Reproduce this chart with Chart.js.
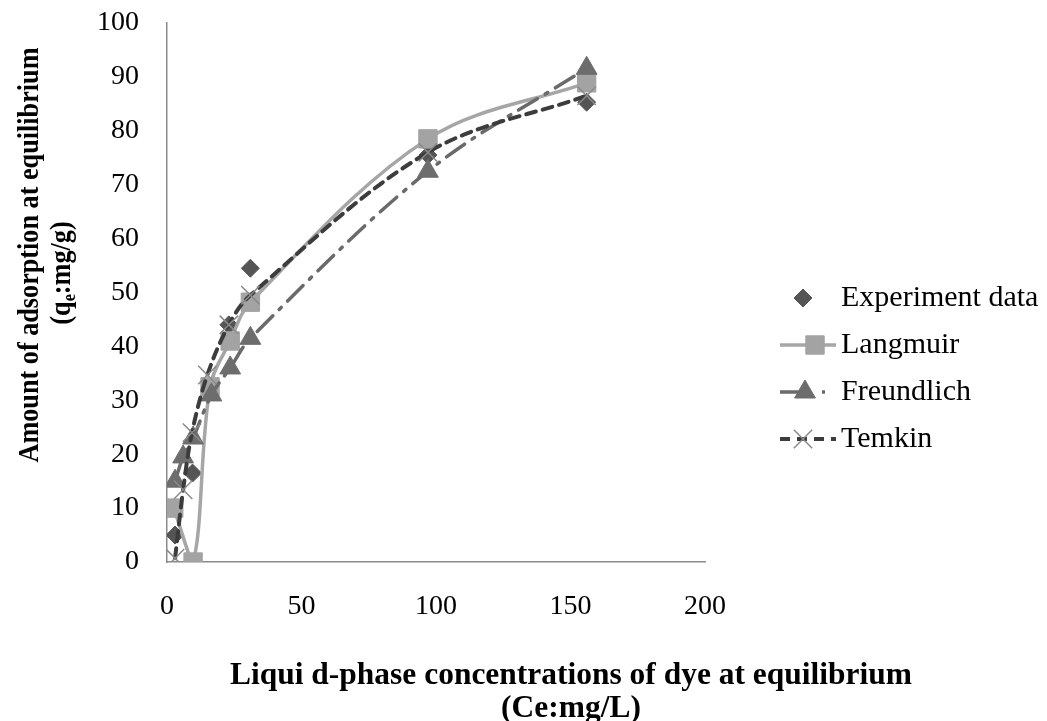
<!DOCTYPE html>
<html>
<head>
<meta charset="utf-8">
<title>Adsorption isotherms</title>
<script src="https://cdn.jsdelivr.net/npm/chart.js@4.4.0/dist/chart.umd.min.js"></script>
<style>
  html, body { margin: 0; padding: 0; background: #fff; }
  #wrap { width: 1047px; height: 721px; }
</style>
</head>
<body>
<div id="wrap"><canvas id="isotherm" width="1047" height="721"></canvas></div>
<script>
// Series names
const seriesNames = ['Experiment data', 'Langmuir', 'Freundlich', 'Temkin'];

// Ce (mg/L) and qe (mg/g) for each series
const expX = [3, 9.5, 16, 23, 31, 97, 156];
const expY = [5, 16.5, 31.5, 44, 54.5, 75.5, 85.3];

const langX = [2.5, 9.7, 16, 23.5, 31, 97, 156];
const langY = [10, 0, 32.5, 41, 48.2, 78.5, 88.9];

const freuX = [3, 6, 9.7, 16.5, 23.5, 31, 97, 156];
const freuY = [15, 19.5, 23, 31, 36, 41.5, 72.5, 91.6];

const temkX = [3, 6, 9.3, 15, 23, 31, 97, 156];
const temkY = [0.7, 13.4, 24, 34.7, 44, 49.5, 76, 86.5];

// Axis ticks
const xTicks = [0, 50, 100, 150, 200];
const yTicks = [0, 10, 20, 30, 40, 50, 60, 70, 80, 90, 100];

const serif = "'Liberation Serif', 'Times New Roman', serif";

function pairs(xs, ys) {
    return xs.map((x, i) => ({ x: x, y: ys[i] }));
}

// Axis titles, drawn by hand so the subscript and spacing come out right
const axisTitles = {
    id: 'axisTitles',
    afterDraw(chart) {
        const ctx = chart.ctx;
        ctx.save();
        ctx.fillStyle = '#000';
        ctx.textAlign = 'center';
        ctx.textBaseline = 'middle';

        // x title, two centred lines, slightly condensed
        ctx.font = 'bold 32px ' + serif;
        const line1 = 'Liqui d-phase concentrations of dye at equilibrium';
        const w1 = ctx.measureText(line1).width;
        const sx = Math.min(1, 682 / w1);
        ctx.save();
        ctx.translate(571, 676);
        ctx.scale(sx, 1);
        ctx.fillText(line1, 0, 0);
        ctx.fillText('(Ce:mg/L)', 0, 33);
        ctx.restore();

        // y title, rotated
        ctx.font = 'bold 29px ' + serif;
        const yLine1 = 'Amount of adsorption at equilibrium';
        const wy = ctx.measureText(yLine1).width;
        const sy = Math.min(1, 415 / wy);
        ctx.save();
        ctx.translate(31, 255);
        ctx.rotate(-Math.PI / 2);
        ctx.scale(sy, 1);
        ctx.fillText(yLine1, 0, 0);
        ctx.restore();

        // second line with subscript e
        ctx.save();
        ctx.translate(63, 273);
        ctx.rotate(-Math.PI / 2);
        ctx.scale(sy, 1);
        ctx.textAlign = 'left';
        const big = 'bold 29px ' + serif;
        const small = 'bold 18px ' + serif;
        ctx.font = big;
        const a = '(q', c = ':mg/g)';
        const wa = ctx.measureText(a).width;
        const wc = ctx.measureText(c).width;
        ctx.font = small;
        const wb = ctx.measureText('e').width;
        let x = -(wa + wb + wc) / 2;
        ctx.font = big;
        ctx.fillText(a, x, 0);
        x += wa;
        ctx.font = small;
        ctx.fillText('e', x, 7);
        x += wb;
        ctx.font = big;
        ctx.fillText(c, x, 0);
        ctx.restore();

        ctx.restore();
    }
};

// Legend on the right, built from the dataset styles
const sideLegend = {
    id: 'sideLegend',
    afterDraw(chart) {
        const ctx = chart.ctx;
        const rows = [298, 345, 392, 439];
        const markX = [803, 815, 805, 803];
        chart.data.datasets.forEach((ds, i) => {
            const y = rows[i];
            ctx.save();
            if (ds.showLine) {
                ctx.strokeStyle = ds.borderColor;
                ctx.lineWidth = ds.borderWidth;
                ctx.setLineDash(ds.legendDash || ds.borderDash || []);
                ctx.beginPath();
                ctx.moveTo(780, y);
                ctx.lineTo(836, y);
                ctx.stroke();
            }
            ctx.setLineDash([]);
            ctx.fillStyle = ds.pointBackgroundColor;
            ctx.strokeStyle = ds.pointBorderColor;
            ctx.lineWidth = ds.pointBorderWidth;
            Chart.helpers.drawPoint(ctx, {
                pointStyle: ds.pointStyle,
                radius: ds.pointRadius,
                rotation: 0,
                borderWidth: ds.pointBorderWidth
            }, markX[i], y);
            ctx.fillStyle = '#000';
            ctx.font = '30px ' + serif;
            ctx.textAlign = 'left';
            ctx.textBaseline = 'middle';
            ctx.fillText(seriesNames[i], 841, y);
            ctx.restore();
        });
    }
};

const ctx = document.getElementById('isotherm').getContext('2d');

new Chart(ctx, {
    type: 'scatter',
    data: {
        datasets: [
            {
                label: seriesNames[0],
                data: pairs(expX, expY),
                showLine: false,
                pointStyle: 'rectRot',
                pointRadius: 9,
                pointBackgroundColor: '#555555',
                pointBorderColor: '#555555',
                pointBorderWidth: 1,
                order: 4
            },
            {
                label: seriesNames[1],
                data: pairs(langX, langY),
                showLine: true,
                tension: 0.35,
                borderColor: '#a6a6a6',
                borderWidth: 3.5,
                pointStyle: 'rect',
                pointRadius: 13,
                pointBackgroundColor: '#a3a3a3',
                pointBorderColor: '#a3a3a3',
                pointBorderWidth: 1,
                order: 3
            },
            {
                label: seriesNames[2],
                data: pairs(freuX, freuY),
                showLine: true,
                tension: 0.35,
                borderColor: '#6a6a6a',
                borderWidth: 3.5,
                borderDash: [22, 9, 3, 9],
                borderCapStyle: 'round',
                legendDash: [24, 18, 3, 40],
                pointStyle: 'triangle',
                pointRadius: 12,
                pointBackgroundColor: '#6d6d6d',
                pointBorderColor: '#6d6d6d',
                pointBorderWidth: 1,
                order: 2
            },
            {
                label: seriesNames[3],
                data: pairs(temkX, temkY),
                showLine: true,
                tension: 0.35,
                borderColor: '#3c3c3c',
                borderWidth: 4,
                borderDash: [10, 7],
                borderCapStyle: 'round',
                pointStyle: 'crossRot',
                pointRadius: 13,
                pointBackgroundColor: '#8a8a8a',
                pointBorderColor: '#8a8a8a',
                pointBorderWidth: 1.5,
                order: 1
            }
        ]
    },
    options: {
        responsive: false,
        animation: false,
        layout: {
            padding: { top: 23, right: 342, left: 0, bottom: 0 }
        },
        plugins: {
            legend: { display: false },
            tooltip: { enabled: false }
        },
        scales: {
            x: {
                type: 'linear',
                min: 0,
                max: 200,
                afterFit(scale) { scale.height = 159; },
                afterBuildTicks(scale) { scale.ticks = xTicks.map(v => ({ value: v })); },
                grid: { display: false, drawTicks: false },
                border: { display: true, color: '#8a8a8a', width: 1.5 },
                ticks: {
                    color: '#000',
                    padding: 28,
                    maxRotation: 0,
                    font: { family: serif, size: 28 }
                }
            },
            y: {
                type: 'linear',
                min: 0,
                max: 100,
                afterFit(scale) {
                    // fixed width; the tick padding should not push the plot down
                    scale.width = 167;
                    scale.paddingTop = 0;
                    scale.paddingBottom = 0;
                },
                afterBuildTicks(scale) { scale.ticks = yTicks.map(v => ({ value: v })); },
                grid: { display: false, drawTicks: false },
                border: { display: true, color: '#8a8a8a', width: 1.5 },
                ticks: {
                    color: '#000',
                    padding: 28,
                    font: { family: serif, size: 28 }
                }
            }
        }
    },
    plugins: [axisTitles, sideLegend]
});
</script>
</body>
</html>
